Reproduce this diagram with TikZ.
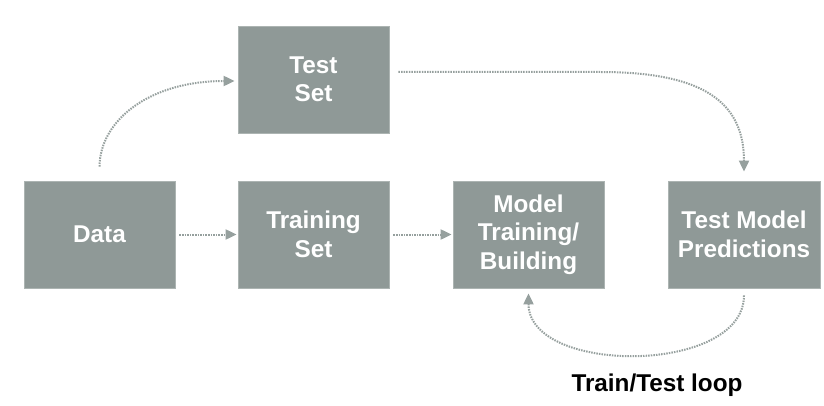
\documentclass[tikz,border=0pt]{standalone}
\usepackage{fontspec}
\setmainfont{Liberation Sans}
\usetikzlibrary{arrows.meta,calc}
\definecolor{boxgray}{RGB}{143,153,151}
\definecolor{boxedge}{RGB}{172,180,178}
\definecolor{arrgray}{RGB}{150,160,158}
\tikzset{
  stage/.style={draw=boxedge, line width=0.8pt, fill=boxgray, minimum width=151pt, minimum height=107pt,
    inner sep=0pt, align=center, text=white, font=\fontsize{24.3}{28.5}\selectfont\bfseries},
  flow/.style={draw=arrgray, line width=2pt, dash pattern=on 1.5pt off 1.1pt,
    -{Triangle[length=11pt,width=10pt,fill=arrgray]}},
  looplabel/.style={font=\fontsize{24.3}{28}\selectfont\bfseries, text=black, inner sep=0pt}
}
\begin{document}
\begin{tikzpicture}[x=1pt,y=-1pt]
\useasboundingbox (0,0) rectangle (824,406);
\node[stage] (test) at (313.5,79.5) {Test\\Set};
\node[stage] (data) at (99.5,234.5) {Data};
\node[stage] (train) at (313.5,234.5) {Training\\Set};
\node[stage] (model) at (528.5,234.5) {Model\\Training/\\Building};
\node[stage, minimum width=152pt] (pred) at (744,234.5) {Test Model\\Predictions};
\node[looplabel] (lbl) at (657,385) {Train/Test loop};

\draw[flow] ([yshift=14pt]data.north) .. controls (100,120) and (150,81) .. ([xshift=-3pt,yshift=-1.5pt]test.west);
\draw[flow] ([xshift=4pt]data.east) -- ([xshift=-1pt]train.west);
\draw[flow] ([xshift=4pt]train.east) -- ([xshift=-1pt]model.west);
\draw[flow] ([xshift=9pt,yshift=7.5pt]test.east) -- (600,72) .. controls (700,72) and (744,100) .. ([yshift=9pt]pred.north);
\draw[flow] ([yshift=-7pt]pred.south) .. controls (744,375) and (528.5,375) .. ([yshift=-5pt]model.south);
\end{tikzpicture}
\end{document}
